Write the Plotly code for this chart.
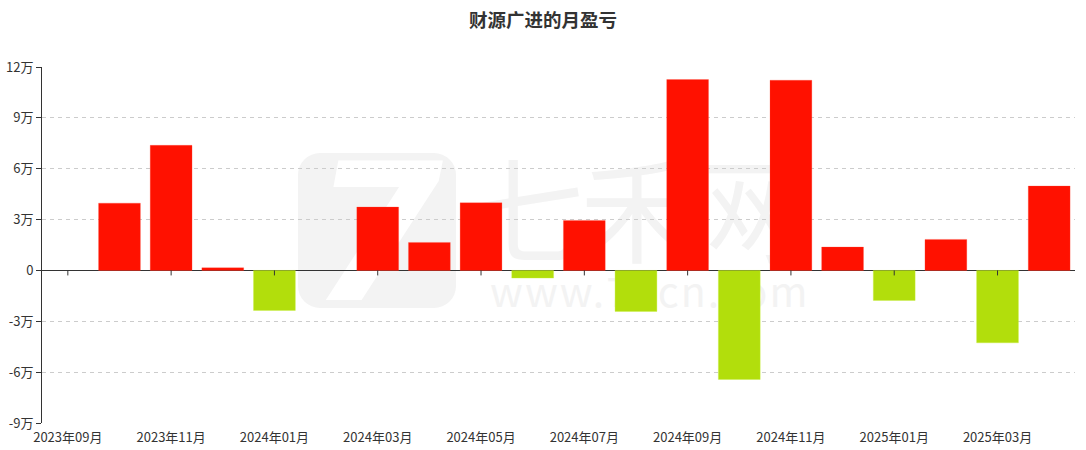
import base64
import plotly.graph_objects as go

months = ["2023年09月", "2023年10月", "2023年11月", "2023年12月", "2024年01月",
          "2024年02月", "2024年03月", "2024年04月", "2024年05月", "2024年06月",
          "2024年07月", "2024年08月", "2024年09月", "2024年10月", "2024年11月",
          "2024年12月", "2025年01月", "2025年02月", "2025年03月", "2025年04月"]
# monthly profit/loss, in 万 (None = no bar)
pnl = [None, 3.97, 7.38, 0.16, -2.36,
       None, 3.74, 1.65, 3.99, -0.45,
       2.95, -2.42, 11.26, -6.43, 11.22,
       1.38, -1.77, 1.83, -4.27, 4.98]

y_ticks = [-9, -6, -3, 0, 3, 6, 9, 12]
y_ticktext = ["-9万", "-6万", "-3万", "0", "3万", "6万", "9万", "12万"]
x_tickvals = months[::2]

RED = "#ff1100"
GREEN = "#b2de0c"
colors = [GREEN if (v is not None and v < 0) else RED for v in pnl]
edge = ["rgba(200,240,60,0.35)" if (v is not None and v < 0) else "rgba(255,80,60,0.25)" for v in pnl]

FONT = "Noto Sans CJK SC, Microsoft YaHei, sans-serif"
W, H = 1086, 450
ML, MR, MT, MB = 42, 11, 67, 27

# faint site watermark behind the plot
wm_svg = f"""<svg xmlns='http://www.w3.org/2000/svg' width='{W}' height='{H}' viewBox='0 0 {W} {H}'>
<rect x='298' y='153' width='158' height='155' rx='22' ry='22' fill='#f3f3f3'/>
<text x='377' y='300' text-anchor='middle' font-family='DejaVu Sans' font-weight='bold' font-style='italic' font-size='190' fill='#ffffff'>7</text>
<text x='470' y='254' font-family='Noto Sans CJK SC' font-size='114' fill='#f3f3f3' letter-spacing='-4'>七禾网</text>
<text x='490' y='307' font-family='Noto Sans CJK SC' font-size='41' fill='#f3f3f3' letter-spacing='2'>www.7hcn.com</text>
</svg>"""
wm_src = "data:image/svg+xml;base64," + base64.b64encode(wm_svg.encode("utf-8")).decode()

pw, ph = W - ML - MR, H - MT - MB

fig = go.Figure()
fig.add_trace(go.Bar(
    x=months, y=pnl,
    marker=dict(color=colors, line=dict(color=edge, width=1)),
    hovertemplate="%{x}<br>%{y}万<extra></extra>",
))

# x-axis ticks sit on the zero line
shapes = []
for i in range(0, len(months), 2):
    shapes.append(dict(type="line", xref="x", yref="y", x0=i, x1=i,
                       ysizemode="pixel", yanchor=0, y0=0, y1=-5,
                       line=dict(color="#333", width=1)))

fig.update_layout(
    width=W, height=H,
    margin=dict(l=ML, r=MR, t=MT, b=MB, autoexpand=False),
    paper_bgcolor="white", plot_bgcolor="rgba(0,0,0,0)",
    font=dict(family=FONT, size=13, color="#333"),
    title=dict(text="<b>财源广进的月盈亏</b>", x=0.5, xanchor="center",
               y=1 - 20.5 / H, yanchor="middle",
               font=dict(family=FONT, size=18.5, color="#333")),
    bargap=0.19,
    showlegend=False,
    shapes=shapes,
    images=[dict(source=wm_src, xref="paper", yref="paper",
                 x=-ML / pw, y=1 + MT / ph, sizex=W / pw, sizey=H / ph,
                 xanchor="left", yanchor="top", sizing="stretch", layer="below")],
    xaxis=dict(type="category", categoryorder="array", categoryarray=months,
               tickmode="array", tickvals=x_tickvals, ticktext=x_tickvals,
               showgrid=False, showline=False, ticks="", zeroline=False,
               tickfont=dict(size=13, color="#333"), automargin=False,
               ticklabelstandoff=5,
               range=[-0.5, len(months) - 0.5]),
    yaxis=dict(range=[-9, 12], tickmode="array", tickvals=y_ticks, ticktext=y_ticktext,
               showgrid=True, gridcolor="#cccccc", griddash="4px,4px", gridwidth=1,
               zeroline=True, zerolinecolor="#333", zerolinewidth=1,
               showline=True, linecolor="#333", linewidth=1,
               ticks="outside", ticklen=5, tickcolor="#333", automargin=False,
               tickfont=dict(size=13, color="#333")),
)

fig.write_html("out.html", config={"displayModeBar": False},
               post_script="document.body.style.margin='0';")
